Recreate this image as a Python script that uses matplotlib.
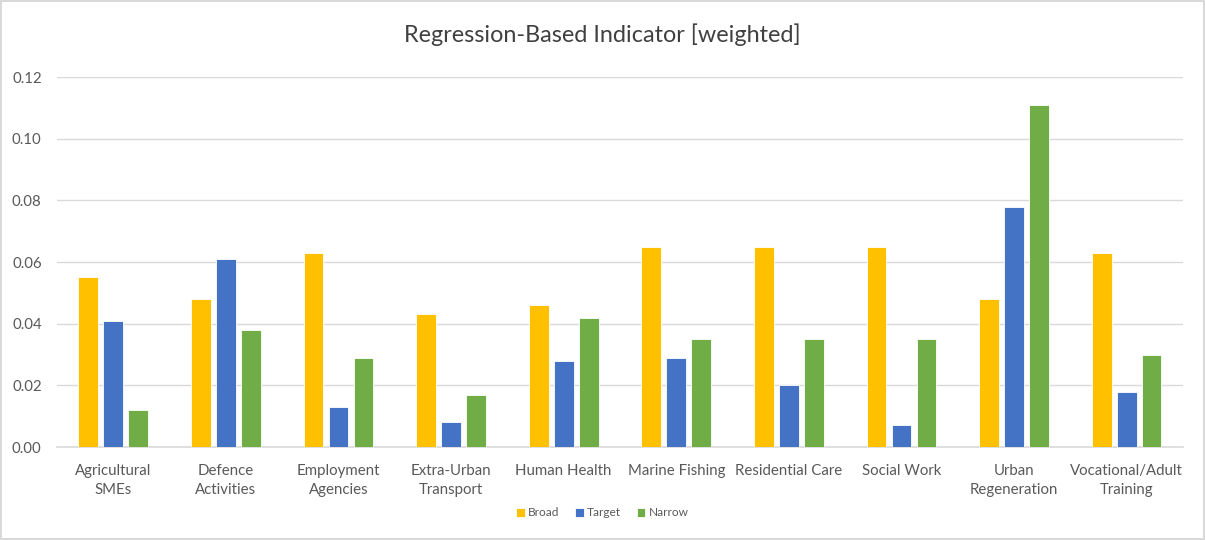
import numpy as np
import matplotlib
matplotlib.use("Agg")
import matplotlib.pyplot as plt

# chart data
categories = ["Agricultural\nSMEs", "Defence\nActivities", "Employment\nAgencies",
              "Extra-Urban\nTransport", "Human Health", "Marine Fishing",
              "Residential Care", "Social Work", "Urban\nRegeneration",
              "Vocational/Adult\nTraining"]
broad = [0.055, 0.048, 0.063, 0.043, 0.046, 0.065, 0.065, 0.065, 0.048, 0.063]
target = [0.041, 0.061, 0.013, 0.008, 0.028, 0.029, 0.020, 0.007, 0.078, 0.018]
narrow = [0.012, 0.038, 0.029, 0.017, 0.042, 0.035, 0.035, 0.035, 0.111, 0.030]
series_names = ["Broad", "Target", "Narrow"]
yticks = [0.00, 0.02, 0.04, 0.06, 0.08, 0.10, 0.12]

colors = ["#FFC000", "#4472C4", "#70AD47"]
grey_text = "#595959"

plt.rcParams['font.family'] = ['Lato', 'DejaVu Sans']

fig = plt.figure(figsize=(12.05, 5.4), dpi=100)
fig.patch.set_edgecolor("#d9d9d9")
fig.patch.set_linewidth(1.5)
ax = fig.add_axes([0.0473, 0.1722, 0.9344, 0.6852])

x = np.arange(len(categories))
width = 0.175
offsets = [-0.222, 0.0, 0.222]
for vals, off, col, name in zip([broad, target, narrow], offsets, colors, series_names):
    ax.bar(x + off, vals, width, color=col, edgecolor="white", linewidth=0.6,
           label=name, zorder=3)

ax.set_xlim(-0.5, len(categories) - 0.5)
ax.set_ylim(0, 0.12)
ax.set_yticks(yticks)
ax.set_yticklabels([f"{v:.2f}" for v in yticks])
ax.set_xticks(x)
ax.set_xticklabels(categories, linespacing=1.45)
ax.tick_params(axis="both", length=0, labelsize=10.8, colors=grey_text)
ax.tick_params(axis="y", pad=11)
ax.tick_params(axis="x", pad=12)

ax.grid(axis="y", color="#d9d9d9", linewidth=1.0, zorder=0)
for side in ["top", "right", "left"]:
    ax.spines[side].set_visible(False)
ax.spines["bottom"].set_color("#d9d9d9")
ax.spines["bottom"].set_linewidth(1.2)

fig.text(0.5, 0.935, "Regression-Based Indicator [weighted]", ha="center", va="center",
         fontsize=16.8, color="#404040")

leg = fig.legend(loc="center", bbox_to_anchor=(0.5, 0.05), ncol=3, frameon=False,
                 fontsize=8.6, handlelength=0.7, handleheight=0.7, handletextpad=0.3,
                 columnspacing=1.3)
for t in leg.get_texts():
    t.set_color(grey_text)

fig.savefig("out.png", dpi=100)
